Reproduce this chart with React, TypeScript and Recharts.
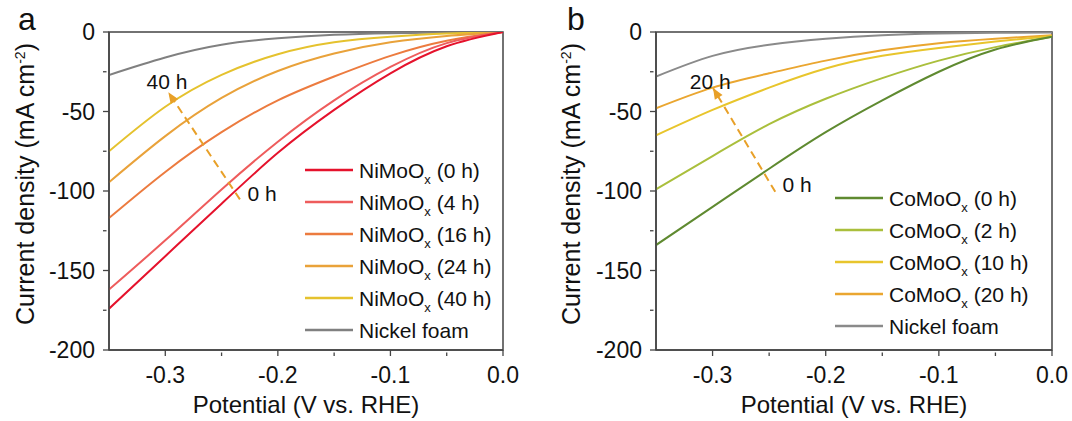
import React from "react";
import {
  LineChart,
  Line,
  XAxis,
  YAxis,
  ReferenceArea,
  ReferenceDot,
  Legend,
} from "recharts";

const FONT = '"Liberation Sans", Arial, sans-serif';
const AXIS = "#444";
const INK = "#111";
const ARROW = "#E8A028";

// potential (V vs. RHE)
const potential = [-0.35, -0.3, -0.25, -0.2, -0.15, -0.1, -0.05, 0];

// panel a, current density (mA cm-2)
const niMoO0 = [-174, -141, -108, -76, -49, -26, -9, 0];
const niMoO4 = [-162, -131, -99, -69, -43, -22, -7, 0];
const niMoO16 = [-117, -88, -63, -43, -28, -15, -5.5, 0];
const niMoO24 = [-94.5, -65.5, -41.5, -24.5, -13.5, -6.5, -2.5, 0];
const niMoO40 = [-75, -47, -27, -14, -6.5, -3, -1, 0];
const nickelFoamA = [-27, -16, -8, -4, -1.8, -0.8, -0.3, 0];

// panel b
const coMoO0 = [-134, -110, -86, -63, -43, -25, -11, -3];
const coMoO2 = [-99, -78, -58, -42, -29, -18, -9.5, -3];
const coMoO10 = [-65, -49, -35, -23, -15, -10, -6, -2.5];
const coMoO20 = [-48, -35, -26, -18, -11.5, -7, -4.2, -2];
const nickelFoamB = [-28, -15, -8, -4.2, -2, -1, -0.5, -0.3];

// trend arrows (tail -> head)
const arrowA = [
  { potential: -0.2337, arrow: -105.3 },
  { potential: -0.2973, arrow: -37.9 },
];
const arrowB = [
  { potential: -0.2446, arrow: -100.5 },
  { potential: -0.2996, arrow: -35.2 },
];

const xTicks = [-0.3, -0.25, -0.2, -0.15, -0.1, -0.05, 0];
const yTicks = [0, -25, -50, -75, -100, -125, -150, -175, -200];

type Series = { key: string; name: string; color: string; values: number[] };

const seriesA: Series[] = [
  { key: "s0", name: "NiMoOx (0 h)", color: "#E5122C", values: niMoO0 },
  { key: "s1", name: "NiMoOx (4 h)", color: "#EE5C5C", values: niMoO4 },
  { key: "s2", name: "NiMoOx (16 h)", color: "#EC7B3F", values: niMoO16 },
  { key: "s3", name: "NiMoOx (24 h)", color: "#E9A23A", values: niMoO24 },
  { key: "s4", name: "NiMoOx (40 h)", color: "#E5C22E", values: niMoO40 },
  { key: "s5", name: "Nickel foam", color: "#808080", values: nickelFoamA },
];

const seriesB: Series[] = [
  { key: "s0", name: "CoMoOx (0 h)", color: "#5F8A30", values: coMoO0 },
  { key: "s1", name: "CoMoOx (2 h)", color: "#AABF3C", values: coMoO2 },
  { key: "s2", name: "CoMoOx (10 h)", color: "#E8C52C", values: coMoO10 },
  { key: "s3", name: "CoMoOx (20 h)", color: "#EAA630", values: coMoO20 },
  { key: "s4", name: "Nickel foam", color: "#8A8A8A", values: nickelFoamB },
];

function buildRows(series: Series[]) {
  return potential.map((p, i) => {
    const row: Record<string, number> = { potential: p };
    series.forEach((s) => (row[s.key] = s.values[i]));
    return row;
  });
}

function YTick(props: any) {
  const { x, y, payload } = props;
  const v = payload.value;
  const major = v % 50 === 0;
  return (
    <g>
      <line x1={x} x2={x + (major ? 6 : 3.5)} y1={y} y2={y} stroke={AXIS} strokeWidth={1.3} />
      {major && (
        <text x={x - 8} y={y + 8} textAnchor="end" fontSize={23} fontFamily={FONT} fill={INK}>
          {v}
        </text>
      )}
    </g>
  );
}

function XTick(props: any) {
  const { x, y, payload } = props;
  const v = payload.value;
  const major = Math.round(v * 100) % 10 === 0;
  return (
    <g>
      <line x1={x} x2={x} y1={y} y2={y - (major ? 6 : 3.5)} stroke={AXIS} strokeWidth={1.3} />
      {major && (
        <text x={x} y={y + 27} textAnchor="middle" fontSize={23} fontFamily={FONT} fill={INK}>
          {v.toFixed(1)}
        </text>
      )}
    </g>
  );
}

function ArrowHead(props: any) {
  const { cx, cy, index, points } = props;
  if (index !== 1 || cx == null || cy == null) return <g key={`a${index}`} />;
  const prev = points && points[0];
  const ang = prev ? Math.atan2(cy - prev.y, cx - prev.x) : -2.1;
  const L = 11;
  const W = 4.5;
  const bx = cx - L * Math.cos(ang);
  const by = cy - L * Math.sin(ang);
  const px = -Math.sin(ang);
  const py = Math.cos(ang);
  return (
    <polygon
      key={`a${index}`}
      points={`${cx},${cy} ${bx + W * px},${by + W * py} ${bx - W * px},${by - W * py}`}
      fill={ARROW}
    />
  );
}

function renderName(name: string) {
  const i = name.indexOf("Ox");
  if (i < 0) return name;
  return (
    <>
      {name.slice(0, i + 1)}
      <sub style={{ fontSize: 13, verticalAlign: "-6px", lineHeight: 0 }}>x</sub>
      {name.slice(i + 2)}
    </>
  );
}

function LegendBox({ series }: { series: Series[] }) {
  return (
    <div style={{ fontFamily: FONT, fontSize: 21, color: INK }}>
      {series.map((s) => (
        <div
          key={s.key}
          style={{ display: "flex", alignItems: "center", height: 32, whiteSpace: "nowrap" }}
        >
          <svg width={48} height={4} style={{ marginRight: 6, flex: "none" }}>
            <line x1={0} x2={48} y1={2} y2={2} stroke={s.color} strokeWidth={2.5} />
          </svg>
          <span style={{ lineHeight: "21px" }}>{renderName(s.name)}</span>
        </div>
      ))}
    </div>
  );
}

type PanelProps = {
  letter: string;
  letterX: number;
  series: Series[];
  arrow: { potential: number; arrow: number }[];
  topLabel: { text: string; x: number; y: number };
  bottomLabel: { x: number; y: number };
  yAxisWidth: number;
  marginRight: number;
  yTitleX: number;
  legendLeft: number;
  legendTop: number;
};

function Panel(p: PanelProps) {
  const W = 536;
  const H = 421;
  const plotLeft = p.yAxisWidth;
  const plotRight = W - p.marginRight;
  const xCenter = (plotLeft + plotRight) / 2;
  const yCenter = 184;
  return (
    <LineChart
      width={W}
      height={H}
      data={buildRows(p.series)}
      margin={{ top: 32, right: p.marginRight, bottom: 0, left: 0 }}
    >
      <XAxis
        dataKey="potential"
        type="number"
        domain={[-0.35, 0]}
        ticks={xTicks}
        interval={0}
        tick={(t: any) => <XTick {...t} />}
        tickLine={false}
        tickMargin={0}
        height={71}
        allowDataOverflow
        axisLine={{ stroke: AXIS, strokeWidth: 1.5 }}
      />
      <YAxis
        type="number"
        domain={[-200, 0]}
        ticks={yTicks}
        interval={0}
        tick={(t: any) => <YTick {...t} />}
        tickLine={false}
        tickMargin={0}
        width={p.yAxisWidth}
        allowDataOverflow
        axisLine={{ stroke: AXIS, strokeWidth: 1.5 }}
      />
      <ReferenceArea
        x1={-0.35}
        x2={0}
        y1={-200}
        y2={0}
        fill="none"
        fillOpacity={0}
        stroke={AXIS}
        strokeWidth={1.5}
      />
      {p.series
        .slice()
        .reverse()
        .map((s) => (
          <Line
            key={s.key}
            type="natural"
            dataKey={s.key}
            name={s.name}
            stroke={s.color}
            strokeWidth={2}
            dot={false}
            activeDot={false}
            isAnimationActive={false}
          />
        ))}
      <Line
        data={p.arrow}
        dataKey="arrow"
        type="linear"
        stroke={ARROW}
        strokeWidth={2}
        strokeDasharray="8 5"
        dot={(d: any) => <ArrowHead {...d} />}
        activeDot={false}
        legendType="none"
        isAnimationActive={false}
      />
      <ReferenceDot
        x={p.topLabel.x}
        y={p.topLabel.y}
        r={0}
        stroke="none"
        label={{ value: p.topLabel.text, position: "center", fontSize: 21, fill: INK, fontFamily: FONT }}
      />
      <ReferenceDot
        x={p.bottomLabel.x}
        y={p.bottomLabel.y}
        r={0}
        stroke="none"
        label={{ value: "0 h", position: "center", fontSize: 21, fill: INK, fontFamily: FONT }}
      />
      <Legend
        layout="vertical"
        align="center"
        verticalAlign="middle"
        wrapperStyle={{ left: p.legendLeft, top: p.legendTop, width: 220 }}
        content={() => <LegendBox series={p.series} />}
      />
      <text x={p.letterX} y={30} fontSize={32} fontFamily={FONT} fill={INK}>
        {p.letter}
      </text>
      <text x={xCenter} y={413} textAnchor="middle" fontSize={24} fontFamily={FONT} fill={INK}>
        Potential (V vs. RHE)
      </text>
      <text
        transform={`rotate(-90 ${p.yTitleX} ${yCenter})`}
        x={p.yTitleX}
        y={yCenter}
        textAnchor="middle"
        fontSize={25}
        fontFamily={FONT}
        fill={INK}
      >
        Current density (mA cm
        <tspan dy={-9} fontSize={14}>
          -2
        </tspan>
        <tspan dy={9}>)</tspan>
      </text>
    </LineChart>
  );
}

export default function App() {
  return (
    <div
      style={{
        position: "absolute",
        left: 0,
        top: 0,
        width: 1072,
        height: 421,
        background: "#fff",
        display: "flex",
      }}
    >
      <Panel
        letter="a"
        letterX={18}
        series={seriesA}
        arrow={arrowA}
        topLabel={{ text: "40 h", x: -0.2985, y: -31.4 }}
        bottomLabel={{ x: -0.2139, y: -101.3 }}
        yAxisWidth={109}
        marginRight={33}
        yTitleX={34}
        legendLeft={305}
        legendTop={154}
      />
      <Panel
        letter="b"
        letterX={31}
        series={seriesB}
        arrow={arrowB}
        topLabel={{ text: "20 h", x: -0.302, y: -31 }}
        bottomLabel={{ x: -0.2252, y: -96.1 }}
        yAxisWidth={120}
        marginRight={20}
        yTitleX={44}
        legendLeft={299}
        legendTop={182}
      />
    </div>
  );
}
